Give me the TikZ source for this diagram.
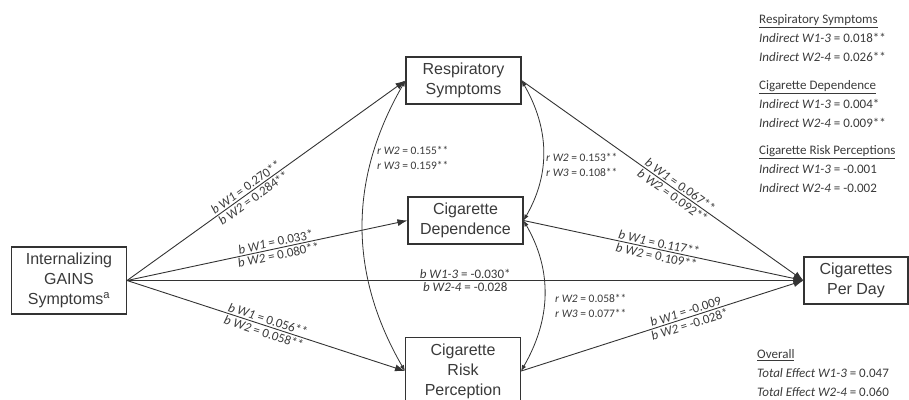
\documentclass[tikz,border=0pt]{standalone}
\usepackage{fontspec}
\setmainfont{Carlito}
\newfontfamily\boxfont{Liberation Sans}
\usetikzlibrary{arrows.meta,positioning}
\definecolor{ink}{HTML}{333333}
\definecolor{txt}{HTML}{3A3A3A}
\newcommand{\pathcoef}[3]{\textit{#1 W#2} = #3}
\tikzset{
  blk/.style={draw=ink, line width=1.1pt, fill=white, minimum width=115pt,
              minimum height=47pt, inner sep=2pt, align=center, text=txt,
              font=\boxfont\fontsize{16}{20}\selectfont},
  ar/.style={-{Latex[length=10pt,width=7pt]}, line width=0.9pt, draw=ink},
  cor/.style={{Latex[length=6pt,width=4.5pt]}-{Latex[length=6pt,width=4.5pt]},
              line width=0.8pt, draw=ink},
  plbl/.style={sloped, inner sep=1.5pt, text=txt, font=\fontsize{13}{15}\selectfont},
  rlbl/.style={anchor=west, align=left, inner sep=0pt, text=txt,
               font=\fontsize{11.5}{15}\selectfont},
  note/.style={anchor=west, align=left, inner sep=0pt, text=txt,
               font=\fontsize{13}{18.8}\selectfont},
}

\begin{document}
\begin{tikzpicture}[x=1pt, y=-1pt]
\useasboundingbox (0,0) rectangle (909,399);

% variables
\node[blk, minimum height=67pt] (int) at (69,280.5) {Internalizing\\GAINS\\Symptoms\textsuperscript{a}};
\node[blk] (resp) at (463.5,80.5) {Respiratory\\Symptoms};
\node[blk] (dep) at (465.5,220.5) {Cigarette\\Dependence};
\node[blk, minimum height=67pt, anchor=north] (risk) at (463,337) {Cigarette\\Risk\\Perception};
\node[blk, minimum width=104pt] (cpd) at (856,280.5) {Cigarettes\\Per Day};

% a paths
\draw[ar] (int.east) -- node[plbl, above, pos=.44] (a1w1) {\pathcoef{b}{1}{0.270**}}
  node[plbl, below, pos=.44] (a1w2) {\pathcoef{b}{2}{0.284**}} (resp.west);
\draw[ar] (int.east) -- node[plbl, above, pos=.535] (a2w1) {\pathcoef{b}{1}{0.033*}}
  node[plbl, below, pos=.535] (a2w2) {\pathcoef{b}{2}{0.080**}} (dep.west);
\draw[ar] (int.east) -- node[plbl, above, pos=.5] (a3w1) {\pathcoef{b}{1}{0.056**}}
  node[plbl, below, pos=.5] (a3w2) {\pathcoef{b}{2}{0.058**}} (risk.west);

% direct path
\draw[ar] (int.east) -- node[plbl, above, pos=.5] (cw1) {\pathcoef{b}{1-3}{-0.030*}}
  node[plbl, below, pos=.5] (cw2) {\pathcoef{b}{2-4}{-0.028}} (cpd.west);

% b paths
\draw[ar] (resp.east) -- node[plbl, above, pos=.55] (b1w1) {\pathcoef{b}{1}{0.067**}}
  node[plbl, below, pos=.55] (b1w2) {\pathcoef{b}{2}{0.092**}} (cpd.west);
\draw[ar] (dep.east) -- node[plbl, above, pos=.48] (b2w1) {\pathcoef{b}{1}{0.117**}}
  node[plbl, below, pos=.48] (b2w2) {\pathcoef{b}{2}{0.109**}} (cpd.west);
\draw[ar] (risk.east) -- node[plbl, above, pos=.59] (b3w1) {\pathcoef{b}{1}{-0.009}}
  node[plbl, below, pos=.59] (b3w2) {\pathcoef{b}{2}{-0.028*}} (cpd.west);

% correlations
\draw[cor] (resp.west) to[out=240, in=120] (risk.west);
\draw[cor] (resp.east) to[out=-60, in=60] (dep.east);
\draw[cor] (dep.east) to[out=-60, in=60] (risk.east);
\node[rlbl] (r1) at (377,157.5) {\textit{r W2} = 0.155**\\\textit{r W3} = 0.159**};
\node[rlbl] (r2) at (546,164.5) {\textit{r W2} = 0.153**\\\textit{r W3} = 0.108**};
\node[rlbl] (r3) at (555,305.5) {\textit{r W2} = 0.058**\\\textit{r W3} = 0.077**};

% indirect effects
\node[note] (ind1) at (759,38.3) {\underline{Respiratory Symptoms}\\
  \textit{Indirect W1-3} = 0.018**\\\textit{Indirect W2-4} = 0.026**};
\node[note] (ind2) at (759,104) {\underline{Cigarette Dependence}\\
  \textit{Indirect W1-3} = 0.004*\\\textit{Indirect W2-4} = 0.009**};
\node[note] (ind3) at (759,169.3) {\underline{Cigarette Risk Perceptions}\\
  \textit{Indirect W1-3} = -0.001\\\textit{Indirect W2-4} = -0.002};
\node[note] (tot) at (757,373.3) {\underline{Overall}\\
  \textit{Total Effect W1-3} = 0.047\\\textit{Total Effect W2-4} = 0.060};
\end{tikzpicture}
\end{document}
